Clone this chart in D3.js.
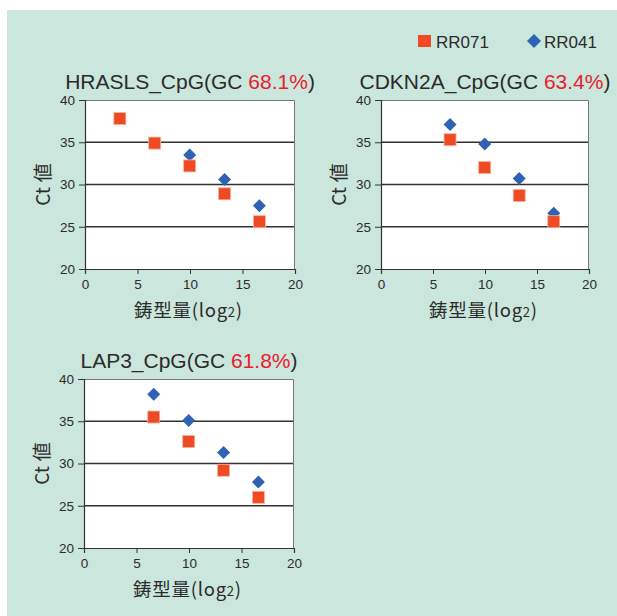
<!DOCTYPE html>
<html>
<head>
<meta charset="utf-8">
<script src="https://cdn.jsdelivr.net/npm/d3@7"></script>
<style>
  html, body { margin: 0; padding: 0; background: #ffffff; }
  svg { display: block; }
</style>
</head>
<body>
<div id="chart"></div>
<script>
// 鋳型量 (log2) — 10, 100, 1000, 10000, 100000 copies
const templateLog2 = [3.32, 6.64, 9.97, 13.29, 16.61];

const panelNames = ["HRASLS_CpG", "CDKN2A_CpG", "LAP3_CpG"];
const panelGC = ["68.1%", "63.4%", "61.8%"];

// Ct values, null = no point
const hraslsRR071 = [37.8, 34.9, 32.2, 28.9, 25.6];
const hraslsRR041 = [null, null, 33.5, 30.6, 27.5];
const cdkn2aRR071 = [null, 35.3, 32.0, 28.7, 25.6];
const cdkn2aRR041 = [null, 37.1, 34.8, 30.7, 26.6];
const lap3RR071 = [null, 35.5, 32.6, 29.2, 26.0];
const lap3RR041 = [null, 38.2, 35.1, 31.3, 27.8];

const seriesNames = ["RR071", "RR041"];
const xTicks = [0, 5, 10, 15, 20];
const yTicks = [20, 25, 30, 35, 40];

const width = 617, height = 616;
const colSquare = "#ef4a23";
const colDiamond = "#2f62b3";
const textCol = "#2b2b2b";
const latin = "'Liberation Sans', Arial, sans-serif";
const cjk = "'Noto Sans CJK JP', 'Liberation Sans', sans-serif";

const svg = d3.select("#chart").append("svg")
    .attr("width", width)
    .attr("height", height)
    .attr("viewBox", `0 0 ${width} ${height}`);

// 背景
svg.append("rect").attr("x", 0).attr("y", 0).attr("width", width).attr("height", height).attr("fill", "#ffffff");
svg.append("rect").attr("x", 7).attr("y", 10).attr("width", width - 7).attr("height", height - 10).attr("fill", "#cbe6dc");

const panels = [
    { name: panelNames[0], gc: panelGC[0], rr071: hraslsRR071, rr041: hraslsRR041, left: 85, top: 100, w: 210, h: 169 },
    { name: panelNames[1], gc: panelGC[1], rr071: cdkn2aRR071, rr041: cdkn2aRR041, left: 381, top: 100, w: 208, h: 169 },
    { name: panelNames[2], gc: panelGC[2], rr071: lap3RR071, rr041: lap3RR041, left: 84, top: 379, w: 210, h: 169 }
];

panels.forEach(p => {
    const g = svg.append("g").attr("transform", `translate(${p.left},${p.top})`);
    const x = d3.scaleLinear().domain([0, 20]).range([0, p.w]);
    const y = d3.scaleLinear().domain([20, 40]).range([p.h, 0]);

    // plot area
    g.append("rect").attr("width", p.w).attr("height", p.h).attr("fill", "#ffffff");

    // grid lines
    g.selectAll(".grid").data(yTicks.filter(t => t > 20 && t < 40)).enter()
        .append("line")
        .attr("x1", 0).attr("x2", p.w)
        .attr("y1", d => y(d)).attr("y2", d => y(d))
        .attr("stroke", "#333333").attr("stroke-width", 1.3);

    // top / right frame
    g.append("path")
        .attr("d", `M0,0.5H${p.w - 0.5}V${p.h}`)
        .attr("fill", "none").attr("stroke", "#777777").attr("stroke-width", 1);

    // axes
    const yAxis = g.append("g")
        .call(d3.axisLeft(y).tickValues(yTicks).tickSize(6).tickPadding(4));
    const xAxis = g.append("g").attr("transform", `translate(0,${p.h})`)
        .call(d3.axisBottom(x).tickValues(xTicks).tickSize(5).tickPadding(5));
    [yAxis, xAxis].forEach(a => {
        a.select(".domain").attr("stroke", "#333333").attr("stroke-width", 1.2);
        a.selectAll(".tick line").attr("stroke", "#333333").attr("stroke-width", 1);
        a.selectAll(".tick text").attr("fill", textCol)
            .attr("font-family", latin).attr("font-size", "13.5px");
    });

    // points: diamonds first, squares on top
    const pts041 = templateLog2.map((v, i) => ({ x: v, y: p.rr041[i] })).filter(d => d.y != null);
    const pts071 = templateLog2.map((v, i) => ({ x: v, y: p.rr071[i] })).filter(d => d.y != null);

    g.selectAll(".dia").data(pts041).enter()
        .append("path")
        .attr("d", "M0,-6.5L6.5,0L0,6.5L-6.5,0Z")
        .attr("transform", d => `translate(${x(d.x)},${y(d.y)})`)
        .attr("fill", colDiamond);

    g.selectAll(".sq").data(pts071).enter()
        .append("rect")
        .attr("x", d => x(d.x) - 6).attr("y", d => y(d.y) - 6)
        .attr("width", 12).attr("height", 12)
        .attr("fill", colSquare)
        .attr("stroke", "#f7b39a").attr("stroke-width", 0.8);

    // title
    const title = g.append("text")
        .attr("x", p.w / 2).attr("y", -11)
        .attr("text-anchor", "middle")
        .attr("font-family", latin).attr("font-size", "21px")
        .attr("fill", textCol);
    title.append("tspan").text(p.name + "(GC ");
    title.append("tspan").attr("fill", "#e8202b").text(p.gc);
    title.append("tspan").text(")");

    // y label
    const yl = g.append("text")
        .attr("transform", `translate(${-35},${p.h / 2}) rotate(-90)`)
        .attr("text-anchor", "middle")
        .attr("font-family", cjk).attr("font-size", "19px")
        .attr("fill", textCol);
    yl.append("tspan").text("Ct");
    yl.append("tspan").attr("dx", 5).text("値");

    // x label
    const xl = g.append("text")
        .attr("x", p.w / 2 - 2).attr("y", p.h + 48)
        .attr("text-anchor", "middle")
        .attr("font-family", cjk).attr("font-size", "18.5px")
        .attr("textLength", 108).attr("lengthAdjust", "spacing")
        .attr("fill", textCol);
    xl.append("tspan").text("鋳型量(log");
    xl.append("tspan").attr("font-size", "13px").text("2");
    xl.append("tspan").text(")");
});

// legend
const legend = svg.append("g");
legend.append("rect").attr("x", 418).attr("y", 35).attr("width", 13).attr("height", 12).attr("fill", colSquare);
legend.append("text").attr("x", 436).attr("y", 48)
    .attr("font-family", latin).attr("font-size", "17px").attr("fill", textCol).text(seriesNames[0]);
legend.append("path").attr("d", "M534,34L541,41L534,48L527,41Z").attr("fill", colDiamond);
legend.append("text").attr("x", 544).attr("y", 48)
    .attr("font-family", latin).attr("font-size", "17px").attr("fill", textCol).text(seriesNames[1]);
</script>
</body>
</html>
